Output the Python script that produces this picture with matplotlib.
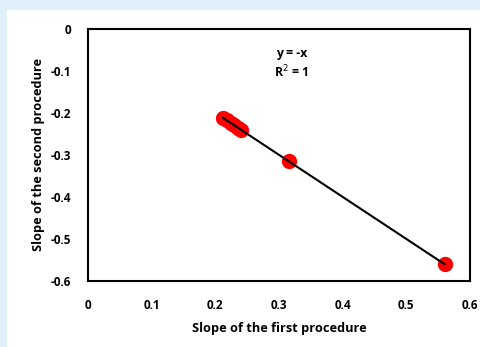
import matplotlib.pyplot as plt
from matplotlib.patches import Rectangle

# slopes from the two procedures
first_slope = [0.212, 0.218, 0.224, 0.230, 0.236, 0.241, 0.315, 0.560]
second_slope = [-0.212, -0.218, -0.224, -0.230, -0.236, -0.241, -0.315, -0.560]
x_ticks = [0, 0.1, 0.2, 0.3, 0.4, 0.5, 0.6]
y_ticks = [0, -0.1, -0.2, -0.3, -0.4, -0.5, -0.6]

plt.rcParams['font.family'] = ['Open Sans', 'DejaVu Sans']

fig = plt.figure(figsize=(4.8, 3.47), dpi=100)
fig.patch.set_facecolor('#e0f0fa')
# white panel
fig.add_artist(Rectangle((7 / 480, 0), 1, 1 - 10 / 347, transform=fig.transFigure,
                         facecolor='white', edgecolor='none', zorder=0))

ax = fig.add_axes([88 / 480, 1 - 281 / 347, (470 - 88) / 480, (281 - 28.7) / 347])
ax.set_facecolor('white')

ax.plot(first_slope, second_slope, 'o', color='red', markersize=10, zorder=2)
ax.plot([min(first_slope), max(first_slope)], [-min(first_slope), -max(first_slope)],
        color='black', linewidth=1.5, zorder=3)

ax.set_xlim(0, 0.6)
ax.set_ylim(-0.6, 0)
ax.set_xticks(x_ticks)
ax.set_yticks(y_ticks)
ax.set_xticklabels(['0', '0.1', '0.2', '0.3', '0.4', '0.5', '0.6'], fontsize=8.5, fontweight='bold')
ax.set_yticklabels(['0', '-0.1', '-0.2', '-0.3', '-0.4', '-0.5', '-0.6'], fontsize=8.5, fontweight='bold')
ax.tick_params(axis='x', length=0, pad=13)
ax.tick_params(axis='y', length=0, pad=12)
for s in ax.spines.values():
    s.set_linewidth(1.5)

ax.set_xlabel('Slope of the first procedure', fontsize=9.2, fontweight='bold', labelpad=7)
ax.set_ylabel('Slope of the second procedure', fontsize=9.2, fontweight='bold', labelpad=4)

ax.text(0.32, -0.058, 'y = -x', fontsize=8.8, fontweight='bold', ha='center', va='center')
ax.text(0.32, -0.103, 'R$^2$ = 1', fontsize=8.8, fontweight='bold', ha='center', va='center')

fig.savefig('out.png', dpi=100)
